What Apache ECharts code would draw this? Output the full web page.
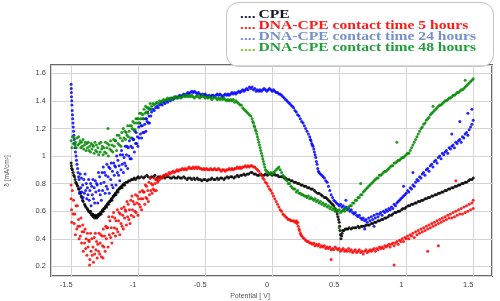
<!DOCTYPE html>
<html>
<head>
<meta charset="utf-8">
<script src="https://cdn.jsdelivr.net/npm/echarts@6/dist/echarts.min.js"></script>
<style>
  html, body { margin: 0; padding: 0; background: #fff; }
  #chart { width: 500px; height: 301px; }
</style>
</head>
<body>
<div id="chart"></div>
<script>
// legend texts
const legendLabels = [
  "CPE",
  "DNA-CPE contact time 5 hours",
  "DNA-CPE contact time 24 hours",
  "DNA-CPE contact time 48 hours"
];
const xAxisTitle = "Potential [ V]";
const yAxisTitle = "\u03b4 [mA/cm\u00b2]";

// [potential V, current density]
const cpe = [
  [-1.50,0.95],[-1.498,0.93],[-1.495,0.91],[-1.49,0.90],[-1.485,0.88],[-1.48,0.86],[-1.475,0.85],[-1.47,0.83],[-1.465,0.81],
  [-1.46,0.80],[-1.455,0.79],[-1.45,0.78],[-1.445,0.76],[-1.44,0.76],[-1.435,0.74],[-1.43,0.73],[-1.425,0.71],[-1.42,0.70],
  [-1.415,0.68],[-1.41,0.67],[-1.40,0.65],[-1.395,0.64],[-1.39,0.63],[-1.38,0.62],[-1.375,0.61],[-1.37,0.60],[-1.36,0.59],
  [-1.355,0.60],[-1.35,0.58],[-1.345,0.57],[-1.34,0.58],[-1.335,0.56],[-1.33,0.57],[-1.325,0.55],[-1.32,0.57],[-1.315,0.56],
  [-1.31,0.55],[-1.305,0.57],[-1.30,0.56],[-1.295,0.58],[-1.29,0.57],[-1.285,0.58],[-1.28,0.59],[-1.275,0.58],[-1.27,0.60],
  [-1.265,0.61],[-1.26,0.60],[-1.255,0.62],[-1.25,0.62],[-1.245,0.63],[-1.24,0.64],[-1.235,0.63],[-1.23,0.65],[-1.225,0.66],
  [-1.22,0.65],[-1.215,0.67],[-1.21,0.67],[-1.205,0.68],[-1.20,0.69],[-1.195,0.68],[-1.19,0.70],[-1.185,0.71],[-1.18,0.71],
  [-1.175,0.72],[-1.17,0.73],[-1.165,0.72],[-1.16,0.74],[-1.155,0.75],[-1.15,0.74],[-1.145,0.76],[-1.14,0.76],[-1.135,0.77],
  [-1.13,0.77],[-1.125,0.78],[-1.12,0.77],[-1.115,0.79],[-1.11,0.79],[-1.105,0.80],[-1.10,0.79],[-1.09,0.81],[-1.08,0.81],
  [-1.07,0.82],[-1.06,0.82],[-1.05,0.83],[-1.04,0.83],[-1.03,0.84],[-1.02,0.83],[-1.01,0.84],[-1.00,0.85],[-0.99,0.84],
  [-0.975,0.85],[-0.96,0.84],[-0.95,0.85],[-0.935,0.86],[-0.925,0.85],[-0.91,0.84],[-0.90,0.85],[-0.885,0.85],[-0.875,0.86],
  [-0.86,0.84],[-0.85,0.85],[-0.835,0.85],[-0.825,0.84],[-0.81,0.85],[-0.80,0.84],[-0.785,0.85],[-0.775,0.85],[-0.76,0.84],
  [-0.75,0.84],[-0.735,0.85],[-0.725,0.84],[-0.71,0.84],[-0.70,0.85],[-0.685,0.84],[-0.675,0.84],[-0.66,0.85],[-0.65,0.84],
  [-0.635,0.83],[-0.625,0.84],[-0.61,0.84],[-0.60,0.83],[-0.585,0.84],[-0.575,0.83],[-0.56,0.84],[-0.55,0.83],[-0.535,0.83],
  [-0.525,0.82],[-0.51,0.83],[-0.50,0.83],[-0.485,0.82],[-0.475,0.83],[-0.46,0.83],[-0.45,0.84],[-0.435,0.83],[-0.425,0.83],
  [-0.41,0.84],[-0.40,0.83],[-0.385,0.84],[-0.375,0.84],[-0.36,0.83],[-0.35,0.84],[-0.335,0.85],[-0.325,0.84],[-0.31,0.85],
  [-0.30,0.85],[-0.285,0.84],[-0.275,0.85],[-0.26,0.86],[-0.25,0.85],[-0.235,0.86],[-0.225,0.86],[-0.21,0.87],[-0.20,0.86],
  [-0.185,0.87],[-0.175,0.87],[-0.16,0.88],[-0.15,0.88],[-0.135,0.87],[-0.125,0.87],[-0.11,0.86],[-0.10,0.86],[-0.085,0.87],
  [-0.075,0.86],[-0.06,0.86],[-0.05,0.87],[-0.035,0.86],[-0.025,0.87],[-0.01,0.87],[0.00,0.86],[0.015,0.87],[0.025,0.86],
  [0.04,0.86],[0.05,0.85],[0.065,0.85],[0.075,0.85],[0.09,0.84],[0.10,0.84],[0.115,0.83],[0.125,0.83],[0.14,0.82],
  [0.15,0.82],[0.165,0.81],[0.175,0.81],[0.19,0.80],[0.20,0.80],[0.215,0.79],[0.225,0.79],[0.24,0.78],[0.25,0.78],
  [0.265,0.77],[0.275,0.77],[0.29,0.76],[0.30,0.76],[0.315,0.75],[0.325,0.74],[0.34,0.73],[0.35,0.73],[0.365,0.72],
  [0.375,0.71],[0.39,0.70],[0.40,0.70],[0.41,0.69],[0.42,0.68],[0.43,0.67],[0.44,0.66],[0.45,0.65],[0.46,0.64],
  [0.47,0.62],[0.48,0.60],[0.485,0.58],[0.49,0.56],[0.495,0.54],[0.50,0.52],[0.503,0.49],[0.506,0.46],[0.51,0.43],
  [0.513,0.40],[0.518,0.42],[0.522,0.44],[0.526,0.46],[0.535,0.46],[0.545,0.47],[0.555,0.47],[0.565,0.47],[0.575,0.48],
  [0.59,0.47],[0.60,0.48],[0.615,0.48],[0.625,0.48],[0.64,0.49],[0.65,0.48],[0.665,0.49],[0.675,0.49],[0.69,0.49],
  [0.70,0.50],[0.715,0.50],[0.725,0.50],[0.74,0.51],[0.75,0.51],[0.765,0.52],[0.775,0.52],[0.79,0.53],[0.80,0.53],
  [0.815,0.54],[0.825,0.54],[0.84,0.55],[0.85,0.55],[0.865,0.56],[0.875,0.57],[0.89,0.57],[0.90,0.58],[0.915,0.59],
  [0.925,0.59],[0.94,0.60],[0.95,0.60],[0.965,0.61],[0.975,0.62],[0.99,0.62],[1.00,0.63],[1.015,0.64],[1.025,0.64],
  [1.04,0.65],[1.05,0.65],[1.065,0.66],[1.075,0.66],[1.09,0.67],[1.10,0.67],[1.115,0.68],[1.125,0.68],[1.14,0.69],
  [1.15,0.69],[1.165,0.70],[1.175,0.70],[1.19,0.71],[1.20,0.71],[1.215,0.72],[1.225,0.72],[1.24,0.73],[1.25,0.73],
  [1.265,0.74],[1.275,0.74],[1.29,0.75],[1.30,0.75],[1.315,0.76],[1.325,0.76],[1.34,0.77],[1.35,0.77],[1.365,0.78],
  [1.375,0.78],[1.39,0.79],[1.40,0.79],[1.415,0.80],[1.425,0.80],[1.44,0.81],[1.45,0.81],[1.465,0.82],[1.475,0.83],
  [1.49,0.83],[1.50,0.84]
];

const dna5h = [
  [-1.500,0.69],[-1.495,0.52],[-1.491,0.75],[-1.486,0.58],[-1.482,0.68],[-1.477,0.51],[-1.473,0.58],[-1.468,0.43],
  [-1.463,0.64],[-1.458,0.47],[-1.454,0.64],[-1.500,0.79],[-1.497,0.61],
  [-1.449,0.49],[-1.445,0.54],[-1.440,0.40],[-1.436,0.49],[-1.431,0.42],[-1.427,0.55],[-1.422,0.37],[-1.418,0.45],
  [-1.413,0.50],[-1.409,0.31],[-1.404,0.45],
  [-1.400,0.37],[-1.396,0.47],[-1.391,0.33],[-1.387,0.40],[-1.382,0.28],[-1.378,0.44],[-1.373,0.34],[-1.369,0.39],
  [-1.364,0.38],[-1.360,0.25],[-1.355,0.44],[-1.362,0.21],
  [-1.351,0.31],[-1.346,0.40],[-1.342,0.28],[-1.337,0.34],[-1.333,0.23],[-1.328,0.41],[-1.324,0.29],[-1.319,0.44],
  [-1.315,0.32],[-1.310,0.38],[-1.305,0.26],
  [-1.301,0.36],[-1.296,0.31],[-1.292,0.44],[-1.287,0.29],[-1.283,0.37],[-1.278,0.43],[-1.274,0.27],[-1.269,0.42],
  [-1.265,0.35],[-1.260,0.47],[-1.255,0.34],[-1.262,0.26],
  [-1.251,0.42],[-1.246,0.31],[-1.242,0.49],[-1.237,0.40],[-1.233,0.48],[-1.228,0.48],[-1.224,0.34],[-1.219,0.56],
  [-1.215,0.43],[-1.210,0.53],[-1.205,0.41],
  [-1.201,0.48],[-1.196,0.37],[-1.192,0.56],[-1.187,0.44],[-1.183,0.59],[-1.178,0.48],[-1.174,0.55],[-1.169,0.42],
  [-1.165,0.53],[-1.160,0.47],[-1.155,0.61],
  [-1.151,0.45],[-1.146,0.53],[-1.142,0.59],[-1.137,0.43],[-1.133,0.58],[-1.128,0.51],[-1.124,0.62],[-1.119,0.49],
  [-1.115,0.57],[-1.110,0.47],[-1.105,0.63],
  [-1.101,0.55],[-1.096,0.61],[-1.092,0.60],[-1.087,0.50],[-1.083,0.67],[-1.078,0.56],[-1.074,0.65],[-1.069,0.54],
  [-1.065,0.61],[-1.060,0.51],[-1.055,0.68],
  [-1.051,0.57],[-1.046,0.71],[-1.042,0.61],[-1.037,0.67],[-1.033,0.56],[-1.028,0.65],[-1.024,0.60],[-1.019,0.72],
  [-1.015,0.59],[-1.010,0.66],[-1.005,0.71],
  [-1.001,0.57],[-0.996,0.69],[-0.992,0.65],[-0.987,0.74],[-0.983,0.63],[-0.978,0.69],[-0.974,0.61],[-0.969,0.75],
  [-0.965,0.69],[-0.960,0.74],[-0.955,0.74],
  [-0.951,0.65],[-0.946,0.79],[-0.942,0.70],[-0.937,0.78],[-0.933,0.69],[-0.928,0.75],[-0.924,0.67],[-0.919,0.81],
  [-0.915,0.72],[-0.910,0.84],[-0.905,0.75],
  [-0.901,0.80],[-0.896,0.73],[-0.892,0.79],[-0.887,0.76],[-0.883,0.84],[-0.878,0.75],[-0.874,0.80],[-0.869,0.83],
  [-0.865,0.75],[-0.860,0.83],[-0.855,0.81],[-0.85,0.82],[-0.845,0.84],
  [-0.84,0.83],[-0.83,0.85],[-0.82,0.84],[-0.81,0.86],[-0.80,0.86],[-0.79,0.87],[-0.78,0.86],[-0.77,0.88],[-0.76,0.87],
  [-0.75,0.88],[-0.74,0.89],[-0.73,0.88],[-0.72,0.89],[-0.71,0.90],[-0.70,0.89],[-0.69,0.90],[-0.68,0.90],[-0.67,0.91],
  [-0.66,0.90],[-0.65,0.91],[-0.64,0.90],[-0.63,0.91],[-0.62,0.92],[-0.61,0.91],[-0.60,0.91],[-0.59,0.92],[-0.58,0.91],
  [-0.57,0.92],[-0.56,0.91],[-0.55,0.92],[-0.54,0.91],[-0.53,0.91],[-0.52,0.90],[-0.51,0.91],[-0.50,0.90],[-0.49,0.91],
  [-0.48,0.90],[-0.47,0.90],[-0.46,0.91],[-0.45,0.90],[-0.44,0.90],[-0.43,0.91],[-0.42,0.90],[-0.41,0.90],[-0.40,0.91],
  [-0.39,0.90],[-0.38,0.89],[-0.37,0.90],[-0.36,0.90],[-0.35,0.89],[-0.34,0.90],[-0.33,0.90],[-0.32,0.91],[-0.31,0.90],
  [-0.30,0.91],[-0.29,0.90],[-0.28,0.91],[-0.27,0.91],[-0.26,0.92],[-0.25,0.91],[-0.24,0.92],[-0.23,0.91],[-0.22,0.92],
  [-0.21,0.92],[-0.20,0.93],[-0.19,0.92],[-0.18,0.93],[-0.17,0.92],[-0.16,0.93],[-0.15,0.93],[-0.14,0.92],[-0.13,0.92],
  [-0.12,0.91],[-0.11,0.90],[-0.10,0.89],[-0.09,0.87],[-0.08,0.86],[-0.07,0.84],[-0.06,0.83],[-0.05,0.81],[-0.04,0.80],
  [-0.03,0.78],[-0.02,0.76],[-0.01,0.75],[0.00,0.73],[0.01,0.71],[0.02,0.69],[0.03,0.67],[0.04,0.65],[0.05,0.63],
  [0.06,0.61],[0.07,0.60],[0.08,0.58],[0.09,0.57],[0.10,0.56],[0.11,0.55],[0.12,0.54],[0.13,0.54],[0.14,0.53],
  [0.15,0.53],[0.16,0.53],[0.17,0.52],[0.18,0.53],[0.185,0.51],[0.19,0.52],[0.195,0.49],[0.20,0.47],[0.205,0.46],
  [0.21,0.44],[0.215,0.43],[0.22,0.42],[0.23,0.41],[0.24,0.40],[0.25,0.39],[0.26,0.38],[0.27,0.38],[0.28,0.37],
  [0.29,0.37],[0.30,0.36],[0.31,0.37],[0.32,0.35],[0.33,0.36],[0.34,0.35],[0.35,0.36],[0.36,0.34],[0.37,0.35],
  [0.38,0.34],[0.39,0.35],[0.40,0.33],[0.41,0.34],[0.42,0.33],[0.43,0.34],[0.44,0.32],[0.44,0.25],[0.45,0.33],
  [0.46,0.32],[0.47,0.34],[0.48,0.33],[0.49,0.32],[0.50,0.33],[0.51,0.31],[0.52,0.32],[0.53,0.33],[0.54,0.31],
  [0.55,0.32],[0.56,0.31],[0.57,0.33],[0.58,0.31],[0.59,0.32],[0.60,0.30],[0.61,0.31],[0.62,0.32],[0.63,0.30],
  [0.64,0.31],[0.65,0.32],[0.66,0.30],[0.67,0.31],[0.68,0.29],[0.69,0.31],[0.70,0.32],[0.71,0.30],[0.72,0.31],
  [0.73,0.32],[0.74,0.31],[0.75,0.32],[0.76,0.33],[0.77,0.31],[0.78,0.33],[0.79,0.32],[0.80,0.34],[0.81,0.33],
  [0.82,0.34],[0.83,0.33],[0.84,0.35],[0.85,0.34],[0.86,0.35],[0.87,0.36],[0.88,0.34],[0.89,0.36],[0.90,0.37],
  [0.91,0.35],[0.91,0.21],[0.92,0.37],[0.93,0.38],[0.94,0.36],[0.95,0.39],[0.96,0.38],[0.97,0.40],[0.98,0.38],
  [0.99,0.41],[1.00,0.40],[1.01,0.42],[1.02,0.40],[1.03,0.43],[1.04,0.42],[1.05,0.44],[1.06,0.41],[1.07,0.45],
  [1.08,0.43],[1.09,0.46],[1.10,0.44],[1.11,0.47],[1.12,0.45],[1.13,0.48],[1.14,0.46],[1.15,0.49],[1.16,0.47],
  [1.16,0.31],[1.17,0.50],[1.18,0.48],[1.19,0.51],[1.20,0.49],[1.21,0.52],[1.22,0.50],[1.23,0.53],[1.24,0.51],
  [1.24,0.35],[1.25,0.54],[1.26,0.52],[1.27,0.55],[1.28,0.53],[1.29,0.56],[1.30,0.54],[1.31,0.57],[1.32,0.55],
  [1.33,0.58],[1.34,0.55],[1.35,0.59],[1.36,0.56],[1.37,0.60],[1.37,0.82],[1.38,0.57],[1.39,0.61],[1.40,0.58],
  [1.41,0.62],[1.42,0.58],[1.43,0.63],[1.44,0.59],[1.45,0.64],[1.46,0.60],[1.47,0.65],[1.48,0.61],[1.49,0.66],
  [1.50,0.62],[1.50,0.68]
];

const dna24h = [
  [-1.50,1.52],[-1.499,1.49],[-1.498,1.46],[-1.497,1.43],[-1.495,1.40],[-1.494,1.37],[-1.492,1.33],[-1.49,1.30],
  [-1.488,1.27],[-1.486,1.24],[-1.484,1.21],[-1.482,1.18],[-1.48,1.15],[-1.477,1.12],[-1.474,1.09],[-1.47,1.06],
  [-1.467,1.03],[-1.463,1.00],[-1.46,0.97],[-1.456,0.94],[-1.452,0.91],[-1.448,0.88],[-1.444,0.85],
  [-1.441,0.83],[-1.437,0.73],[-1.432,0.87],[-1.428,0.77],[-1.423,0.84],[-1.419,0.74],[-1.414,0.79],[-1.410,0.70],
  [-1.405,0.83],
  [-1.401,0.73],[-1.396,0.87],[-1.392,0.75],[-1.387,0.80],[-1.383,0.69],[-1.378,0.77],[-1.374,0.72],[-1.369,0.83],
  [-1.365,0.68],[-1.360,0.75],[-1.355,0.80],
  [-1.351,0.64],[-1.346,0.78],[-1.342,0.72],[-1.337,0.83],[-1.333,0.69],[-1.328,0.77],[-1.324,0.66],[-1.319,0.82],
  [-1.315,0.74],[-1.310,0.80],[-1.305,0.79],
  [-1.301,0.66],[-1.296,0.88],[-1.292,0.75],[-1.287,0.85],[-1.283,0.72],[-1.278,0.80],[-1.274,0.68],[-1.269,0.88],
  [-1.265,0.75],[-1.260,0.92],[-1.255,0.81],
  [-1.251,0.88],[-1.246,0.73],[-1.242,0.86],[-1.237,0.78],[-1.233,0.94],[-1.228,0.76],[-1.224,0.85],[-1.219,0.92],
  [-1.215,0.73],[-1.210,0.91],[-1.205,0.83],
  [-1.201,0.95],[-1.196,0.79],[-1.192,0.89],[-1.187,0.77],[-1.183,0.95],[-1.178,0.86],[-1.174,0.93],[-1.169,0.92],
  [-1.165,0.79],[-1.160,1.00],[-1.155,0.88],
  [-1.151,0.97],[-1.146,0.86],[-1.142,0.93],[-1.137,0.82],[-1.133,1.01],[-1.128,0.90],[-1.124,1.04],[-1.119,0.94],
  [-1.115,1.01],[-1.110,0.88],[-1.105,0.99],
  [-1.101,0.95],[-1.096,1.07],[-1.092,0.93],[-1.087,1.01],[-1.083,1.07],[-1.078,0.91],[-1.074,1.06],[-1.069,1.00],
  [-1.065,1.11],[-1.060,0.98],[-1.055,1.07],
  [-1.051,0.98],[-1.046,1.13],[-1.042,1.06],[-1.037,1.12],[-1.033,1.12],[-1.028,1.03],[-1.024,1.18],[-1.019,1.09],
  [-1.015,1.17],[-1.010,1.09],[-1.005,1.14],
  [-1.001,1.07],[-0.996,1.21],[-0.992,1.13],[-0.987,1.24],[-0.983,1.16],[-0.978,1.22],[-0.974,1.13],[-0.969,1.22],
  [-0.965,1.17],[-0.960,1.27],[-0.955,1.17],
  [-0.951,1.23],[-0.946,1.27],[-0.942,1.18],[-0.937,1.27],[-0.933,1.25],[-0.928,1.32],[-0.924,1.24],[-0.919,1.29],
  [-0.915,1.24],[-0.910,1.34],[-0.905,1.29],
  [-0.90,1.32],[-0.89,1.34],[-0.88,1.33],[-0.87,1.35],[-0.86,1.36],
  [-0.85,1.35],[-0.84,1.37],[-0.83,1.38],[-0.82,1.37],[-0.81,1.39],[-0.80,1.38],[-0.79,1.40],[-0.78,1.39],
  [-0.77,1.41],[-0.76,1.40],[-0.75,1.42],[-0.74,1.41],[-0.73,1.42],[-0.72,1.43],[-0.71,1.42],[-0.70,1.43],
  [-0.69,1.44],[-0.68,1.43],[-0.67,1.44],[-0.66,1.45],[-0.65,1.44],[-0.64,1.45],[-0.63,1.46],[-0.62,1.45],
  [-0.61,1.46],[-0.60,1.47],[-0.59,1.46],[-0.58,1.47],[-0.57,1.46],[-0.56,1.45],[-0.55,1.46],[-0.54,1.45],
  [-0.53,1.44],[-0.52,1.45],[-0.51,1.44],[-0.50,1.45],[-0.49,1.44],[-0.48,1.43],[-0.47,1.44],[-0.46,1.43],
  [-0.45,1.44],[-0.44,1.44],[-0.43,1.43],[-0.42,1.44],[-0.41,1.45],[-0.40,1.44],[-0.39,1.45],[-0.38,1.44],
  [-0.37,1.43],[-0.36,1.44],[-0.35,1.45],[-0.34,1.44],[-0.33,1.45],[-0.32,1.44],[-0.31,1.45],[-0.30,1.46],
  [-0.29,1.45],[-0.28,1.46],[-0.27,1.45],[-0.26,1.46],[-0.25,1.47],[-0.24,1.46],[-0.23,1.47],[-0.22,1.48],
  [-0.21,1.47],[-0.20,1.48],[-0.19,1.49],[-0.18,1.48],[-0.17,1.50],[-0.16,1.49],[-0.15,1.50],[-0.14,1.48],
  [-0.13,1.49],[-0.12,1.47],[-0.11,1.48],[-0.10,1.47],[-0.09,1.48],[-0.08,1.47],[-0.07,1.48],[-0.06,1.49],
  [-0.05,1.48],[-0.04,1.47],[-0.03,1.48],[-0.02,1.49],[-0.01,1.48],[0.00,1.47],[0.01,1.48],[0.02,1.47],
  [0.03,1.46],[0.04,1.46],[0.05,1.45],[0.06,1.45],[0.07,1.44],[0.08,1.43],[0.09,1.42],[0.10,1.41],
  [0.11,1.40],[0.12,1.39],[0.13,1.38],[0.14,1.37],[0.15,1.36],[0.16,1.35],[0.17,1.33],[0.18,1.32],
  [0.19,1.30],[0.20,1.29],[0.21,1.27],[0.22,1.25],[0.23,1.24],[0.24,1.22],[0.25,1.20],[0.26,1.18],
  [0.27,1.16],[0.28,1.14],[0.285,1.12],[0.29,1.11],[0.295,1.09],[0.30,1.08],[0.305,1.07],[0.31,1.05],
  [0.315,1.03],[0.32,1.01],[0.325,0.99],[0.33,0.96],[0.335,0.94],[0.34,0.91],[0.345,0.89],[0.35,0.88],
  [0.36,0.87],[0.37,0.86],[0.38,0.85],[0.39,0.84],[0.40,0.82],[0.41,0.81],[0.42,0.78],[0.43,0.75],
  [0.44,0.72],[0.45,0.70],[0.46,0.68],[0.47,0.67],[0.48,0.66],[0.49,0.65],[0.50,0.64],[0.51,0.65],
  [0.52,0.63],[0.53,0.64],[0.54,0.62],[0.55,0.63],[0.56,0.61],[0.57,0.62],[0.58,0.60],[0.59,0.61],
  [0.60,0.59],[0.61,0.58],[0.62,0.59],[0.63,0.57],[0.64,0.56],[0.65,0.57],[0.66,0.55],[0.67,0.54],
  [0.68,0.55],[0.69,0.53],[0.70,0.54],[0.71,0.52],[0.72,0.55],[0.73,0.53],[0.74,0.56],[0.75,0.54],
  [0.76,0.57],[0.77,0.55],[0.78,0.58],[0.79,0.56],[0.80,0.58],[0.81,0.59],[0.82,0.57],[0.83,0.60],
  [0.84,0.59],[0.85,0.61],[0.86,0.60],[0.87,0.62],[0.88,0.61],[0.89,0.63],[0.90,0.62],[0.91,0.65],
  [0.92,0.64],[0.93,0.66],[0.94,0.67],[0.95,0.68],[0.96,0.69],[0.97,0.70],[0.98,0.71],[0.99,0.72],
  [1.00,0.73],[1.01,0.75],[1.02,0.74],[1.03,0.77],[1.04,0.76],[1.05,0.79],[1.06,0.78],[1.07,0.81],
  [1.08,0.83],[1.09,0.82],[1.10,0.85],[1.11,0.84],[1.12,0.87],[1.13,0.88],[1.14,0.86],[1.15,0.90],
  [1.16,0.91],[1.17,0.89],[1.18,0.93],[1.19,0.94],[1.20,0.92],[1.21,0.96],[1.22,0.97],[1.23,0.95],
  [1.24,0.99],[1.25,1.00],[1.26,0.98],[1.27,1.02],[1.28,1.01],[1.29,1.03],[1.30,1.04],[1.31,1.02],
  [1.32,1.06],[1.33,1.05],[1.34,1.07],[1.35,1.08],[1.36,1.06],[1.37,1.10],[1.38,1.09],[1.39,1.11],
  [1.40,1.12],[1.41,1.10],[1.42,1.14],[1.43,1.13],[1.44,1.16],[1.45,1.17],[1.46,1.15],[1.47,1.19],
  [1.48,1.21],[1.49,1.23],[1.50,1.26],[1.46,1.31],[1.49,1.34],[1.40,1.25],[1.34,1.16],[1.05,0.88],
  [0.98,0.78],[0.76,0.49],[0.69,0.47],[0.55,0.68]
];

const dna48h = [
  [-1.500,1.11],[-1.494,1.06],[-1.489,1.14],[-1.483,1.09],[-1.478,1.13],[-1.472,1.08],[-1.467,1.10],[-1.461,1.06],
  [-1.456,1.13],
  [-1.450,1.08],[-1.444,1.14],[-1.439,1.09],[-1.433,1.11],[-1.428,1.06],[-1.422,1.10],[-1.417,1.07],[-1.411,1.12],
  [-1.406,1.05],
  [-1.400,1.08],[-1.394,1.10],[-1.389,1.04],[-1.383,1.09],[-1.378,1.06],[-1.372,1.10],[-1.367,1.04],[-1.361,1.07],
  [-1.356,1.03],
  [-1.350,1.09],[-1.344,1.05],[-1.339,1.08],[-1.333,1.07],[-1.328,1.02],[-1.322,1.10],[-1.317,1.04],[-1.311,1.08],
  [-1.306,1.03],
  [-1.300,1.06],[-1.294,1.01],[-1.289,1.09],[-1.283,1.03],[-1.278,1.10],[-1.272,1.05],[-1.267,1.07],[-1.261,1.01],
  [-1.256,1.06],
  [-1.250,1.03],[-1.244,1.10],[-1.239,1.02],[-1.233,1.06],[-1.228,1.09],[-1.222,1.00],[-1.217,1.08],[-1.211,1.05],
  [-1.206,1.11],[-1.225,1.20],
  [-1.200,1.04],[-1.194,1.08],[-1.189,1.03],[-1.183,1.12],[-1.178,1.07],[-1.172,1.11],[-1.167,1.11],[-1.161,1.04],
  [-1.156,1.15],
  [-1.150,1.09],[-1.144,1.15],[-1.139,1.08],[-1.133,1.13],[-1.128,1.07],[-1.122,1.17],[-1.117,1.11],[-1.111,1.20],
  [-1.106,1.13],
  [-1.100,1.18],[-1.094,1.12],[-1.089,1.17],[-1.083,1.15],[-1.078,1.22],[-1.072,1.14],[-1.067,1.18],[-1.061,1.22],
  [-1.056,1.13],
  [-1.050,1.22],[-1.044,1.20],[-1.039,1.25],[-1.033,1.19],[-1.028,1.24],[-1.022,1.19],[-1.017,1.27],[-1.011,1.24],
  [-1.006,1.27],
  [-1.000,1.27],[-0.994,1.24],[-0.989,1.31],[-0.983,1.27],[-0.978,1.31],[-0.972,1.27],[-0.967,1.30],[-0.961,1.27],
  [-0.956,1.34],
  [-0.950,1.31],[-0.944,1.36],[-0.939,1.32],[-0.933,1.35],[-0.928,1.31],[-0.922,1.35],[-0.917,1.34],[-0.911,1.38],
  [-0.906,1.34],
  [-0.90,1.36],[-0.89,1.38],[-0.88,1.37],[-0.87,1.38],[-0.86,1.39],[-0.85,1.38],[-0.84,1.40],[-0.83,1.39],
  [-0.82,1.40],[-0.81,1.41],[-0.80,1.40],[-0.79,1.41],[-0.78,1.42],[-0.77,1.41],[-0.76,1.42],[-0.75,1.41],
  [-0.74,1.42],[-0.73,1.43],[-0.72,1.42],[-0.71,1.43],[-0.70,1.42],[-0.69,1.43],[-0.68,1.42],[-0.67,1.43],
  [-0.66,1.44],[-0.65,1.43],[-0.64,1.44],[-0.63,1.43],[-0.62,1.44],[-0.61,1.43],[-0.60,1.44],[-0.59,1.43],
  [-0.58,1.42],[-0.57,1.43],[-0.56,1.44],[-0.55,1.43],[-0.54,1.42],[-0.53,1.43],[-0.52,1.44],[-0.51,1.43],
  [-0.50,1.42],[-0.49,1.43],[-0.48,1.42],[-0.47,1.43],[-0.46,1.42],[-0.45,1.41],[-0.44,1.42],[-0.43,1.43],
  [-0.42,1.42],[-0.41,1.41],[-0.40,1.42],[-0.39,1.41],[-0.38,1.42],[-0.37,1.41],[-0.36,1.42],[-0.35,1.41],
  [-0.34,1.40],[-0.33,1.41],[-0.32,1.40],[-0.31,1.41],[-0.30,1.40],[-0.29,1.41],[-0.28,1.39],[-0.27,1.40],
  [-0.26,1.39],[-0.25,1.38],[-0.24,1.37],[-0.23,1.37],[-0.22,1.35],[-0.21,1.34],[-0.20,1.33],[-0.19,1.32],
  [-0.18,1.31],[-0.17,1.30],[-0.16,1.29],[-0.15,1.27],[-0.145,1.25],[-0.14,1.24],[-0.135,1.22],[-0.13,1.21],
  [-0.125,1.19],[-0.12,1.18],[-0.115,1.16],[-0.11,1.14],[-0.105,1.12],[-0.10,1.10],[-0.095,1.08],[-0.09,1.06],
  [-0.085,1.04],[-0.08,1.02],[-0.075,1.00],[-0.07,0.98],[-0.065,0.96],[-0.06,0.94],[-0.055,0.92],[-0.05,0.90],
  [-0.04,0.89],[-0.03,0.88],[-0.02,0.87],[-0.01,0.88],[0.00,0.87],[0.01,0.88],[0.02,0.89],[0.03,0.90],
  [0.04,0.91],[0.05,0.92],[0.06,0.90],[0.07,0.88],[0.08,0.86],[0.09,0.85],[0.10,0.83],[0.11,0.82],
  [0.12,0.80],[0.13,0.80],[0.14,0.78],[0.15,0.77],[0.16,0.76],[0.17,0.76],[0.18,0.74],[0.19,0.75],
  [0.20,0.73],[0.21,0.73],[0.22,0.72],[0.23,0.72],[0.24,0.71],[0.25,0.71],[0.26,0.70],[0.27,0.71],
  [0.28,0.69],[0.29,0.70],[0.30,0.69],[0.31,0.68],[0.32,0.69],[0.33,0.67],[0.34,0.68],[0.35,0.66],
  [0.36,0.67],[0.37,0.65],[0.38,0.66],[0.39,0.64],[0.40,0.65],[0.41,0.63],[0.42,0.64],[0.43,0.62],
  [0.44,0.63],[0.45,0.61],[0.46,0.62],[0.47,0.60],[0.48,0.61],[0.49,0.60],[0.50,0.61],[0.51,0.59],
  [0.52,0.60],[0.53,0.61],[0.54,0.60],[0.55,0.62],[0.56,0.61],[0.57,0.63],[0.58,0.64],[0.59,0.64],
  [0.60,0.66],[0.61,0.66],[0.62,0.68],[0.63,0.68],[0.64,0.70],[0.65,0.70],[0.66,0.72],[0.67,0.72],
  [0.68,0.74],[0.69,0.75],[0.70,0.76],[0.71,0.77],[0.72,0.78],[0.73,0.79],[0.74,0.80],[0.75,0.81],
  [0.76,0.82],[0.77,0.83],[0.78,0.84],[0.79,0.84],[0.80,0.86],[0.81,0.86],[0.82,0.87],[0.83,0.88],
  [0.84,0.89],[0.85,0.89],[0.86,0.90],[0.87,0.91],[0.88,0.92],[0.89,0.93],[0.90,0.93],[0.91,0.95],
  [0.92,0.95],[0.93,0.96],[0.94,0.97],[0.95,0.97],[0.96,0.98],[0.97,0.99],[0.98,0.99],[0.99,1.00],
  [1.00,1.01],[1.01,1.02],[1.02,1.02],[1.03,1.04],[1.04,1.06],[1.05,1.08],[1.06,1.10],[1.07,1.12],
  [1.08,1.14],[1.09,1.16],[1.10,1.18],[1.11,1.20],[1.12,1.21],[1.13,1.23],[1.14,1.24],[1.15,1.26],
  [1.16,1.27],[1.17,1.28],[1.18,1.30],[1.19,1.31],[1.20,1.32],[1.21,1.33],[1.22,1.34],[1.23,1.35],
  [1.24,1.36],[1.25,1.37],[1.26,1.37],[1.27,1.38],[1.28,1.39],[1.29,1.40],[1.30,1.40],[1.31,1.41],
  [1.32,1.42],[1.33,1.42],[1.34,1.43],[1.35,1.44],[1.36,1.44],[1.37,1.45],[1.38,1.46],[1.39,1.46],
  [1.40,1.47],[1.41,1.48],[1.42,1.48],[1.43,1.49],[1.44,1.50],[1.45,1.51],[1.46,1.52],[1.47,1.53],
  [1.48,1.54],[1.49,1.55],[1.50,1.56],[0.93,1.10],[0.66,0.80],[0.50,0.48],[1.20,1.36],[1.44,1.55]
];

const seriesData = [cpe, dna5h, dna24h, dna48h];
const seriesColors = ["#000000", "#ff0000", "#0000ff", "#008a00"];
const legendTextColors = ["#141428", "#ff1a1a", "#7690cc", "#1f9e3a"];
const legendDotColors = ["#141428", "#ff1a1a", "#7690cc", "#8cbc2c"];

const chart = echarts.init(document.getElementById("chart"));

const legendItems = [];
legendLabels.forEach((label, i) => {
  const y = 14.5 + i * 11.3;
  legendItems.push({
    type: "text",
    x: 240,
    y: y,
    scaleX: 1.3,
    style: {
      text: "....",
      font: 'bold 12px "Liberation Serif"',
      fill: legendDotColors[i],
      textVerticalAlign: "middle"
    }
  });
  legendItems.push({
    type: "text",
    x: 258.5,
    y: y,
    scaleX: 1.3,
    style: {
      text: label,
      font: 'bold 12px "Liberation Serif"',
      fill: legendTextColors[i],
      textVerticalAlign: "middle"
    }
  });
});

const option = {
  animation: false,
  backgroundColor: "#fff",
  grid: {
    left: 51,
    right: 8,
    top: 65,
    bottom: 25,
    show: true,
    borderColor: "#6a6a6a",
    borderWidth: 2,
    backgroundColor: "transparent"
  },
  xAxis: {
    type: "value",
    min: -1.65,
    max: 1.64,
    splitNumber: 5,
    axisLine: { show: false },
    axisTick: { show: false },
    splitLine: { lineStyle: { color: "#d4d4d4", width: 1 } },
    axisLabel: {
      fontSize: 7.5,
      fontFamily: "Liberation Sans",
      color: "#444",
      margin: 5,
      padding: [0, 10, 0, 0],
      showMinLabel: false,
      showMaxLabel: false
    }
  },
  yAxis: {
    type: "value",
    min: 0.13,
    max: 1.66,
    splitNumber: 7,
    axisLine: { show: false },
    axisTick: { show: false },
    splitLine: { lineStyle: { color: "#d4d4d4", width: 1 } },
    axisLabel: {
      fontSize: 7.5,
      fontFamily: "Liberation Sans",
      color: "#444",
      margin: 5,
      showMinLabel: false,
      showMaxLabel: false
    }
  },
  series: seriesData.map((data, i) => ({
    name: legendLabels[i],
    type: "scatter",
    data: data,
    symbol: "circle",
    symbolSize: 3,
    itemStyle: { color: seriesColors[i], opacity: 0.85 },
    silent: true
  })),
  graphic: [
    {
      type: "text",
      x: 250,
      y: 296,
      style: {
        text: xAxisTitle,
        font: '7px "Liberation Sans"',
        fill: "#555",
        textAlign: "center",
        textVerticalAlign: "middle"
      }
    },
    {
      type: "text",
      x: 7,
      y: 171,
      rotation: Math.PI / 2,
      style: {
        text: yAxisTitle,
        font: '6.5px "Liberation Sans"',
        fill: "#555",
        textAlign: "center",
        textVerticalAlign: "middle"
      }
    },
    {
      type: "group",
      z: 100,
      children: [
        {
          type: "rect",
          shape: { x: 226.5, y: 2.5, width: 267, height: 64, r: 12 },
          style: { fill: "#fff", stroke: "#c4c4c4", lineWidth: 1 }
        }
      ].concat(legendItems)
    }
  ]
};

chart.setOption(option);
</script>
</body>
</html>
